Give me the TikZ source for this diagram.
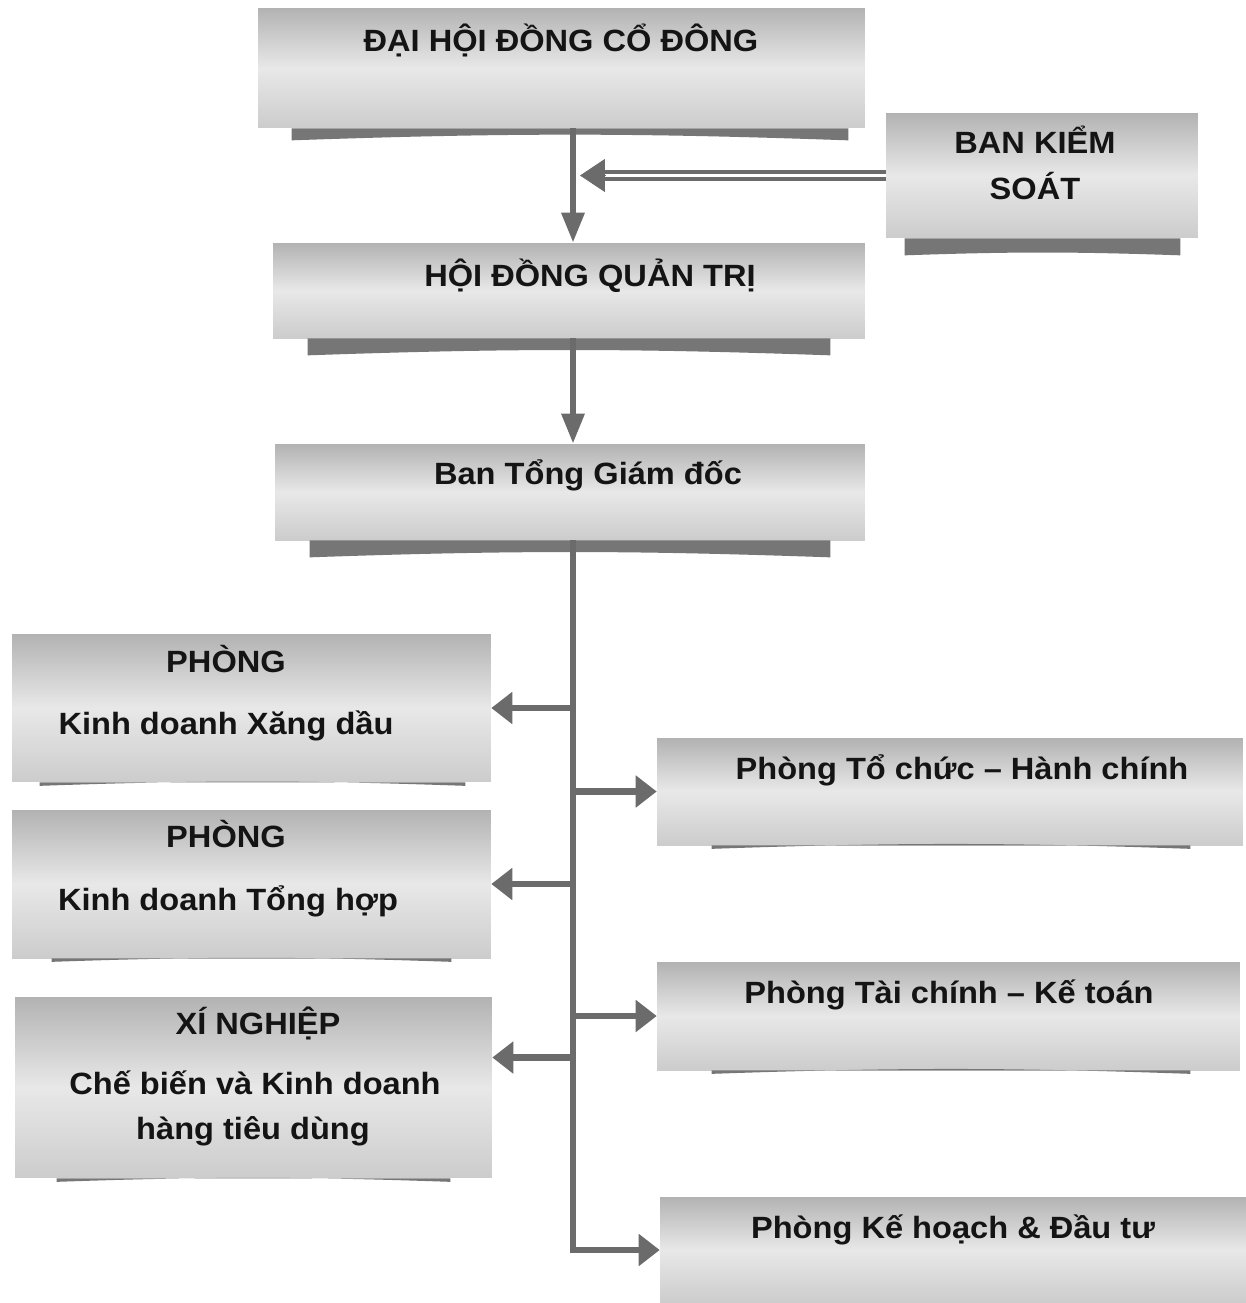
\documentclass[tikz,border=0pt]{standalone}
\usepackage{fontspec}
\newfontfamily\orgfont{Liberation Sans}[FakeStretch=1.06]
\usepackage{tikz}
\usetikzlibrary{positioning,calc,arrows.meta}
\definecolor{linegray}{HTML}{6B6B6B}
\definecolor{shadowgray}{HTML}{767676}

% dark band under a box: node, left inset, right inset, depth
\newcommand{\shadowband}[4]{%
  \fill[shadowgray] ([xshift=#2]#1.south west) -- ([xshift=#2,yshift=-#4]#1.south west)
    to[bend left=2] ([xshift=-#3,yshift=-#4]#1.south east) -- ([xshift=-#3]#1.south east) -- cycle;}

\tikzset{
  orgbox/.style={rectangle, inner sep=0pt, top color=black!30, bottom color=black!20, middle color=black!9},
  lbl/.style={font=\orgfont\bfseries\fontsize{17.5}{21}\selectfont, text=black!92, anchor=base, inner sep=0pt},
  link/.style={draw=linegray, line width=3.5pt},
  downarrow/.style={link, -{Triangle[width=0.44cm,length=0.6cm]}},
  brancharrow/.style={link, -{Triangle[width=0.62cm,length=0.42cm]}},
  dblink/.style={draw=linegray, line width=0.08cm, double=white, double distance=0.06cm}
}

\begin{document}
\begin{tikzpicture}[x=0.02cm, y=-0.02cm]
  \useasboundingbox[fill=white] (0,0) rectangle (1246,1303);

  % Top levels
  \node[orgbox, minimum width=12.14cm, minimum height=2.4cm] (dhd) at (561.5,68) {};
  \node[orgbox, minimum width=6.24cm, minimum height=2.5cm] (bks) at (1042,175.5) {};
  \node[orgbox, minimum width=11.84cm, minimum height=1.9cm] (hdqt) at (569,290.5) {};
  \node[orgbox, minimum width=11.8cm, minimum height=1.92cm] (btgd) at (570,492) {};
  \shadowband{dhd}{0.68cm}{0.34cm}{0.24cm}
  \shadowband{bks}{0.38cm}{0.36cm}{0.34cm}
  \shadowband{hdqt}{0.7cm}{0.7cm}{0.34cm}
  \shadowband{btgd}{0.7cm}{0.7cm}{0.34cm}

  \node[lbl] (dhdtxt) at (561,51) {ĐẠI HỘI ĐỒNG CỔ ĐÔNG};
  \node[lbl] (bkstxt1) at (1035,153) {BAN KIỂM};
  \node[lbl] (bkstxt2) at (1035,199) {SOÁT};
  \node[lbl] (hdqttxt) at (590,286) {HỘI ĐỒNG QUẢN TRỊ};
  \node[lbl] (btgdtxt) at (588,484) {Ban Tổng Giám đốc};

  % Departments on the left
  \node[orgbox, minimum width=9.58cm, minimum height=2.96cm] (kdxd) at (251.5,708) {};
  \node[orgbox, minimum width=9.58cm, minimum height=2.96cm] (kdth) at (251.5,884) {};
  \node[orgbox, minimum width=9.54cm, minimum height=3.62cm] (xn) at (253.5,1087.5) {};
  \shadowband{kdxd}{0.56cm}{0.52cm}{0.07cm}
  \shadowband{kdth}{0.8cm}{0.8cm}{0.07cm}
  \shadowband{xn}{0.84cm}{0.84cm}{0.07cm}

  \node[lbl] (kdxdtxt1) at (226,672) {PHÒNG};
  \node[lbl] (kdxdtxt2) at (226,734) {Kinh doanh Xăng dầu};
  \node[lbl] (kdthtxt1) at (226,847) {PHÒNG};
  \node[lbl] (kdthtxt2) at (228,910) {Kinh doanh Tổng hợp};
  \node[lbl] (xntxt1) at (258,1034) {XÍ NGHIỆP};
  \node[lbl] (xntxt2) at (255,1094) {Chế biến và Kinh doanh};
  \node[lbl] (xntxt3) at (253,1139) {hàng tiêu dùng};

  % Departments on the right
  \node[orgbox, minimum width=11.72cm, minimum height=2.14cm] (tchc) at (950,791.5) {};
  \node[orgbox, minimum width=11.66cm, minimum height=2.16cm] (tckt) at (948.5,1016) {};
  \node[orgbox, minimum width=11.72cm, minimum height=2.12cm] (khdt) at (953,1250) {};
  \shadowband{tchc}{1.1cm}{1.06cm}{0.07cm}
  \shadowband{tckt}{1.1cm}{1.0cm}{0.07cm}

  \node[lbl] (tchctxt) at (962,779) {Phòng Tổ chức – Hành chính};
  \node[lbl] (tckttxt) at (949,1003) {Phòng Tài chính – Kế toán};
  \node[lbl] (khdttxt) at (953,1238) {Phòng Kế hoạch \& Đầu tư};

  % Connectors
  \coordinate (trunk) at (573,0);
  \coordinate (bksin) at ($(trunk |- bks.west)+(7,0)$);
  \draw[downarrow] (dhd.south -| trunk) -- (hdqt.north -| trunk);
  \draw[downarrow] (hdqt.south -| trunk) -- (btgd.north -| trunk);
  \draw[dblink] (bks.west) -- ($(bksin)+(22,0)$);
  \draw[link, line width=0.5pt, -{Triangle[width=0.66cm,length=0.5cm]}] ($(bksin)+(25,0)$) -- (bksin);

  \draw[brancharrow] (btgd.south -| trunk) |- (khdt.west);
  \foreach \n/\dy in {kdxd/0, kdth/0, xn/30}
    \draw[brancharrow] (trunk |- {$(\n.east)+(0,-\dy)$}) -- ($(\n.east)+(0,-\dy)$);
  \foreach \n in {tchc, tckt}
    \draw[brancharrow] (trunk |- \n.west) -- (\n.west);
\end{tikzpicture}
\end{document}
